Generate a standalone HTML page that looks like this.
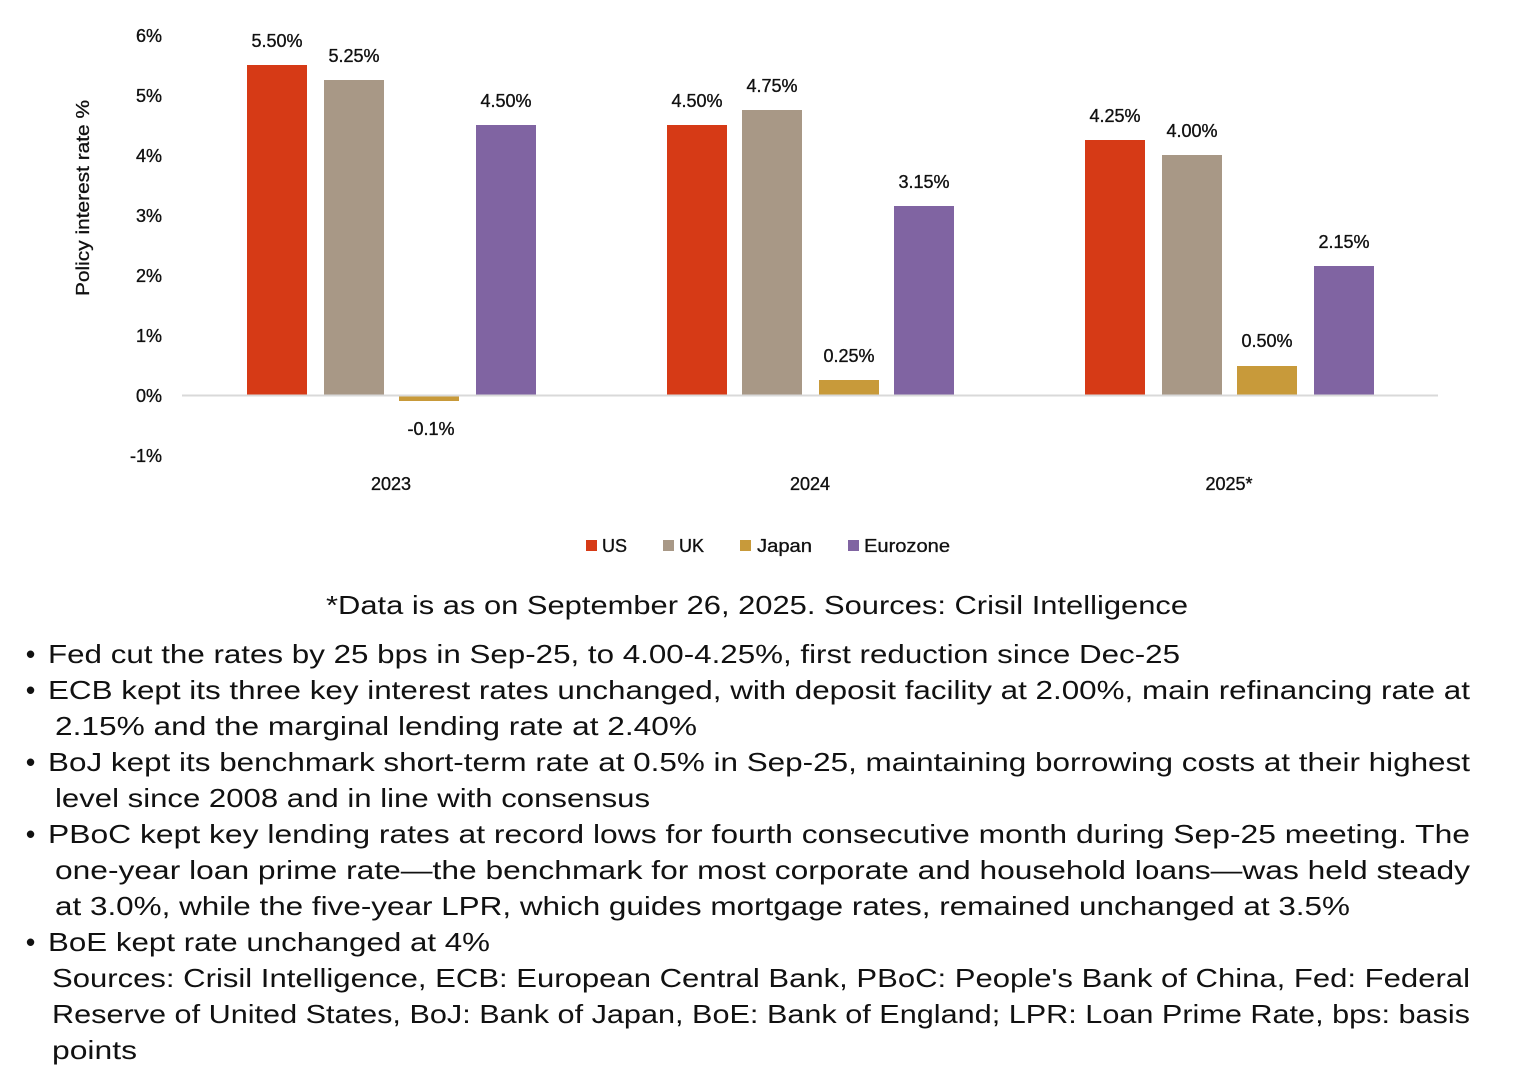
<!DOCTYPE html>
<html><head><meta charset="utf-8"><style>
html,body{margin:0;padding:0;background:#fff;}
svg{display:block;font-family:"Liberation Sans",sans-serif;}
.yl{font-size:18px;fill:#111;text-anchor:end;stroke:#111;stroke-width:0.35;}
.dl{font-size:18px;fill:#111;text-anchor:middle;stroke:#111;stroke-width:0.35;}
.bt{font-size:26px;fill:#111;}
.bu{font-size:26px;font-weight:bold;fill:#111;}
</style></head><body>
<svg width="1513" height="1077" viewBox="0 0 1513 1077">
<g class="yl">
<text x="162" y="42">6%</text><text x="162" y="102">5%</text><text x="162" y="162">4%</text>
<text x="162" y="222">3%</text><text x="162" y="282">2%</text><text x="162" y="342">1%</text>
<text x="162" y="402">0%</text><text x="162" y="462">-1%</text>
</g>
<text transform="translate(89,198) rotate(-90)" font-size="18" text-anchor="middle" fill="#111" stroke="#111" stroke-width="0.3" textLength="196" lengthAdjust="spacingAndGlyphs">Policy interest rate %</text>
<rect x="247" y="65" width="60" height="330" fill="#d63a16"/>
<rect x="324" y="80" width="60" height="315" fill="#a89886"/>
<rect x="399" y="395" width="60" height="6" fill="#c89a3a"/>
<rect x="476" y="125" width="60" height="270" fill="#8064a2"/>
<rect x="667" y="125" width="60" height="270" fill="#d63a16"/>
<rect x="742" y="110" width="60" height="285" fill="#a89886"/>
<rect x="819" y="380" width="60" height="15" fill="#c89a3a"/>
<rect x="894" y="206" width="60" height="189" fill="#8064a2"/>
<rect x="1085" y="140" width="60" height="255" fill="#d63a16"/>
<rect x="1162" y="155" width="60" height="240" fill="#a89886"/>
<rect x="1237" y="366" width="60" height="29" fill="#c89a3a"/>
<rect x="1314" y="266" width="60" height="129" fill="#8064a2"/>
<line x1="182" y1="395.5" x2="1438" y2="395.5" stroke="#d9d9d9" stroke-width="2"/>
<g class="dl">
<text x="277" y="47">5.50%</text><text x="354" y="62">5.25%</text><text x="431" y="435">-0.1%</text><text x="506" y="107">4.50%</text>
<text x="697" y="107">4.50%</text><text x="772" y="92">4.75%</text><text x="849" y="362">0.25%</text><text x="924" y="188">3.15%</text>
<text x="1115" y="122">4.25%</text><text x="1192" y="137">4.00%</text><text x="1267" y="347">0.50%</text><text x="1344" y="248">2.15%</text>
<text x="391" y="490">2023</text><text x="810" y="490">2024</text><text x="1229" y="490">2025*</text>
</g>
<g font-size="18" fill="#111" stroke="#111" stroke-width="0.3">
<rect x="586" y="540" width="11" height="11" fill="#d63a16" stroke="none"/><text x="602" y="552">US</text>
<rect x="663" y="540" width="11" height="11" fill="#a89886" stroke="none"/><text x="679" y="552">UK</text>
<rect x="740" y="540" width="11" height="11" fill="#c89a3a" stroke="none"/><text x="757" y="552" textLength="55" lengthAdjust="spacingAndGlyphs">Japan</text>
<rect x="848" y="540" width="11" height="11" fill="#8064a2" stroke="none"/><text x="864" y="552" textLength="86" lengthAdjust="spacingAndGlyphs">Eurozone</text>
</g>
<text class="bt" x="326" y="614" textLength="862" lengthAdjust="spacingAndGlyphs">*Data is as on September 26, 2025. Sources: Crisil Intelligence</text>
<g class="bu">
<text x="26" y="663">•</text><text x="26" y="699">•</text><text x="26" y="771">•</text><text x="26" y="843">•</text><text x="26" y="951">•</text>
</g>
<g class="bt">
<text x="48" y="663" textLength="1132" lengthAdjust="spacingAndGlyphs">Fed cut the rates by 25 bps in Sep-25, to 4.00-4.25%, first reduction since Dec-25</text>
<text x="48" y="699" textLength="1422" lengthAdjust="spacingAndGlyphs">ECB kept its three key interest rates unchanged, with deposit facility at 2.00%, main refinancing rate at</text>
<text x="55" y="735" textLength="642" lengthAdjust="spacingAndGlyphs">2.15% and the marginal lending rate at 2.40%</text>
<text x="48" y="771" textLength="1422" lengthAdjust="spacingAndGlyphs">BoJ kept its benchmark short-term rate at 0.5% in Sep-25, maintaining borrowing costs at their highest</text>
<text x="55" y="807" textLength="595" lengthAdjust="spacingAndGlyphs">level since 2008 and in line with consensus</text>
<text x="48" y="843" textLength="1422" lengthAdjust="spacingAndGlyphs">PBoC kept key lending rates at record lows for fourth consecutive month during Sep-25 meeting. The</text>
<text x="55" y="879" textLength="1415" lengthAdjust="spacingAndGlyphs">one-year loan prime rate—the benchmark for most corporate and household loans—was held steady</text>
<text x="55" y="915" textLength="1295" lengthAdjust="spacingAndGlyphs">at 3.0%, while the five-year LPR, which guides mortgage rates, remained unchanged at 3.5%</text>
<text x="48" y="951" textLength="442" lengthAdjust="spacingAndGlyphs">BoE kept rate unchanged at 4%</text>
<text x="52" y="987" textLength="1418" lengthAdjust="spacingAndGlyphs">Sources: Crisil Intelligence, ECB: European Central Bank, PBoC: People's Bank of China, Fed: Federal</text>
<text x="52" y="1023" textLength="1418" lengthAdjust="spacingAndGlyphs">Reserve of United States, BoJ: Bank of Japan, BoE: Bank of England; LPR: Loan Prime Rate, bps: basis</text>
<text x="52" y="1059" textLength="85" lengthAdjust="spacingAndGlyphs">points</text>
</g>
</svg>
</body></html>
